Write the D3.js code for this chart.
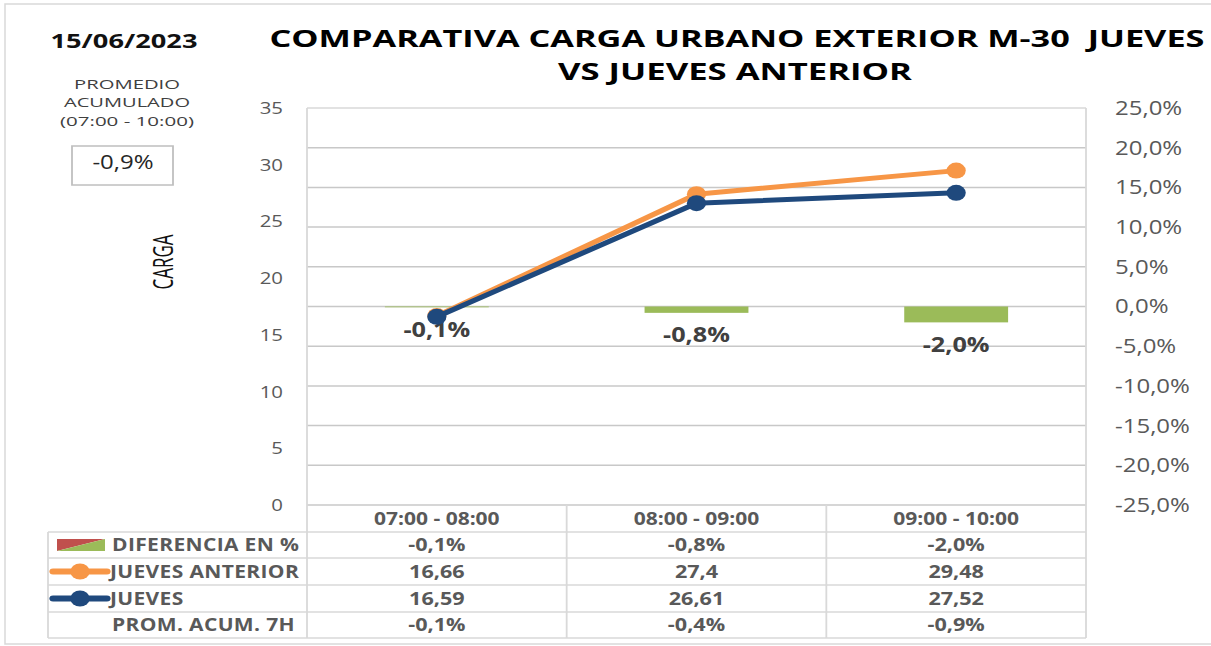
<!DOCTYPE html>
<html>
<head>
<meta charset="utf-8">
<script src="https://cdn.jsdelivr.net/npm/d3@7"></script>
<style>
  body { margin: 0; background: #fff; }
  svg text { font-family: "Open Sans", sans-serif; }
</style>
</head>
<body>
<div id="chart"></div>
<script>
// data
const categories = ["07:00 - 08:00", "08:00 - 09:00", "09:00 - 10:00"];
const diferencia = [-0.001, -0.008, -0.020];
const juevesAnterior = [16.66, 27.4, 29.48];
const jueves = [16.59, 26.61, 27.52];
const promAcum = [-0.001, -0.004, -0.009];
const leftTicks = [0, 5, 10, 15, 20, 25, 30, 35];
const rightTicks = [-25, -20, -15, -10, -5, 0, 5, 10, 15, 20, 25].map(v => v / 100);

const W = 1211, H = 646;
// the original picture is stretched sideways, so draw in a squeezed space
const SX = 1.2;
const X = v => v / SX;

const GREEN = "#9bbb59", RED = "#c0504d", ORANGE = "#f79646", NAVY = "#1f497d";
const GRID = "#c8c8c8", BORDER = "#d9d9d9", TXT = "#595959";

const pct = d => (d * 100).toFixed(1).replace(".", ",") + "%";
const num = d => String(d).replace(".", ",");

const svg = d3.select("#chart").append("svg")
    .attr("width", W)
    .attr("height", H);

// outer border of the chart area
svg.append("rect")
    .attr("x", 5).attr("y", 4)
    .attr("width", W + 10).attr("height", H - 6)
    .attr("fill", "none").attr("stroke", BORDER).attr("stroke-width", 1.5);

const g = svg.append("g").attr("transform", "scale(" + SX + ",1)");

const plot = { left: 307, right: 1086, top: 108, bottom: 505 };
const rowLines = [532, 558, 585, 612, 638];

const x = d3.scaleBand().domain(categories).range([X(plot.left), X(plot.right)]);
const yLeft = d3.scaleLinear().domain([0, 35]).range([plot.bottom, plot.top]);
const yRight = d3.scaleLinear().domain([-0.25, 0.25]).range([plot.bottom, plot.top]);
const cx = c => x(c) + x.bandwidth() / 2;

// titles
g.append("text")
    .attr("x", X(124)).attr("y", 48)
    .attr("text-anchor", "middle")
    .attr("font-size", 20).attr("font-weight", "bold").attr("fill", "#111")
    .attr("textLength", X(147)).attr("lengthAdjust", "spacingAndGlyphs")
    .text("15/06/2023");

g.append("text")
    .attr("x", X(737)).attr("y", 47)
    .attr("text-anchor", "middle")
    .style("white-space", "pre")
    .attr("font-size", 24).attr("font-weight", "bold").attr("fill", "#000")
    .attr("textLength", X(935)).attr("lengthAdjust", "spacingAndGlyphs")
    .text("COMPARATIVA CARGA URBANO EXTERIOR M-30  JUEVES");

g.append("text")
    .attr("x", X(735)).attr("y", 80)
    .attr("text-anchor", "middle")
    .attr("font-size", 24).attr("font-weight", "bold").attr("fill", "#000")
    .attr("textLength", X(354)).attr("lengthAdjust", "spacingAndGlyphs")
    .text("VS JUEVES ANTERIOR");

// promedio acumulado block
const promLines = ["PROMEDIO", "ACUMULADO", "(07:00 - 10:00)"];
const promWidths = [106, 126, 134];
promLines.forEach((t, i) => {
    g.append("text")
        .attr("x", X(127)).attr("y", 89 + i * 18.5)
        .attr("text-anchor", "middle")
        .attr("font-size", 13.5).attr("fill", "#404040")
        .attr("textLength", X(promWidths[i])).attr("lengthAdjust", "spacingAndGlyphs")
        .text(t);
});
g.append("rect")
    .attr("x", X(72)).attr("y", 146)
    .attr("width", X(101)).attr("height", 39)
    .attr("fill", "none").attr("stroke", "#bfbfbf").attr("stroke-width", 1.5);
g.append("text")
    .attr("x", X(123)).attr("y", 169)
    .attr("text-anchor", "middle")
    .attr("font-size", 20).attr("fill", "#262626")
    .text(pct(promAcum[promAcum.length - 1]));

// y axis title
g.append("text")
    .attr("transform", "translate(" + X(173) + ",262) rotate(-90)")
    .attr("text-anchor", "middle")
    .attr("font-size", 22).attr("fill", "#111")
    .attr("textLength", 55).attr("lengthAdjust", "spacingAndGlyphs")
    .text("CARGA");

// gridlines on the right axis ticks
g.append("g").selectAll("line")
    .data(rightTicks)
    .join("line")
    .attr("x1", X(plot.left)).attr("x2", X(plot.right))
    .attr("y1", d => yRight(d)).attr("y2", d => yRight(d))
    .attr("stroke", d => d === 0.25 ? BORDER : GRID)
    .attr("stroke-width", 1.5);

// axes
const leftAxis = g.append("g")
    .attr("transform", "translate(" + X(plot.left) + ",0)")
    .call(d3.axisLeft(yLeft).tickValues(leftTicks).tickSize(0).tickPadding(X(24)));
leftAxis.select(".domain").remove();
leftAxis.selectAll("text").attr("font-size", 17).attr("fill", TXT).attr("font-family", "Open Sans");

const rightAxis = g.append("g")
    .attr("transform", "translate(" + X(plot.right) + ",0)")
    .call(d3.axisRight(yRight).tickValues(rightTicks).tickSize(0).tickPadding(X(29)).tickFormat(pct));
rightAxis.select(".domain").remove();
rightAxis.selectAll("text").attr("font-size", 20).attr("fill", TXT).attr("font-family", "Open Sans");

// bars (right axis)
const barW = x.bandwidth() * 0.4;
g.append("g").selectAll("rect")
    .data(categories)
    .join("rect")
    .attr("x", c => cx(c) - barW / 2)
    .attr("width", barW)
    .attr("y", (c, i) => Math.min(yRight(0), yRight(diferencia[i])))
    .attr("height", (c, i) => Math.abs(yRight(diferencia[i]) - yRight(0)))
    .attr("fill", (c, i) => diferencia[i] < 0 ? GREEN : RED);

// bar labels
g.append("g").selectAll("text")
    .data(categories)
    .join("text")
    .attr("x", c => cx(c))
    .attr("y", (c, i) => yRight(Math.min(0, diferencia[i])) + 22)
    .attr("dy", "0.35em")
    .attr("text-anchor", "middle")
    .attr("font-size", 21).attr("font-weight", "bold").attr("fill", "#404040")
    .text((c, i) => pct(diferencia[i]));

// lines (left axis)
const line = d3.line().x((d, i) => cx(categories[i])).y(d => yLeft(d));
[[juevesAnterior, ORANGE], [jueves, NAVY]].forEach(([vals, col]) => {
    g.append("path")
        .datum(vals)
        .attr("d", line)
        .attr("fill", "none")
        .attr("stroke", col)
        .attr("stroke-width", 5)
        .attr("stroke-linejoin", "round");
    g.append("g").selectAll("circle")
        .data(vals)
        .join("circle")
        .attr("cx", (d, i) => cx(categories[i]))
        .attr("cy", d => yLeft(d))
        .attr("r", 8)
        .attr("fill", col);
});

// data table
const tbl = g.append("g").attr("stroke", BORDER).attr("stroke-width", 1.5);
rowLines.forEach(yy => {
    tbl.append("line").attr("x1", X(48)).attr("x2", X(plot.right)).attr("y1", yy).attr("y2", yy);
});
tbl.append("line").attr("x1", X(48)).attr("x2", X(48)).attr("y1", rowLines[0]).attr("y2", rowLines[4]);
tbl.append("line").attr("x1", X(plot.left)).attr("x2", X(plot.left)).attr("y1", plot.top).attr("y2", rowLines[4]);
tbl.append("line").attr("x1", X(plot.right)).attr("x2", X(plot.right)).attr("y1", plot.top).attr("y2", rowLines[4]);
categories.slice(1).forEach(c => {
    tbl.append("line").attr("x1", x(c)).attr("x2", x(c)).attr("y1", plot.bottom).attr("y2", rowLines[4]);
});

const rowMid = [518.5, 545, 571.5, 598.5, 625];
const rows = [
    categories,
    diferencia.map(pct),
    juevesAnterior.map(num),
    jueves.map(num),
    promAcum.map(pct)
];
rows.forEach((vals, r) => {
    g.append("g").selectAll("text")
        .data(vals)
        .join("text")
        .attr("x", (d, i) => cx(categories[i]))
        .attr("y", rowMid[r])
        .attr("dy", "0.35em")
        .attr("text-anchor", "middle")
        .attr("font-size", r === 0 ? 17.5 : 18).attr("font-weight", "bold").attr("fill", TXT)
        .text(d => d);
});

// legend cells
const labels = ["DIFERENCIA EN %", "JUEVES ANTERIOR", "JUEVES", "PROM. ACUM. 7H"];
const labelX = [112, 110, 110, 112];
labels.forEach((t, i) => {
    g.append("text")
        .attr("x", X(labelX[i])).attr("y", rowMid[i + 1])
        .attr("dy", "0.35em")
        .attr("font-size", 17.5).attr("font-weight", "bold").attr("fill", TXT)
        .attr("letter-spacing", 0.3)
        .text(t);
});
// bar swatch split diagonally
const sw = { x0: X(57), x1: X(105), y0: 539, y1: 551 };
g.append("polygon")
    .attr("points", [[sw.x0, sw.y0], [sw.x1, sw.y0], [sw.x0, sw.y1]].join(" "))
    .attr("fill", RED);
g.append("polygon")
    .attr("points", [[sw.x1, sw.y0], [sw.x1, sw.y1], [sw.x0, sw.y1]].join(" "))
    .attr("fill", GREEN);
[[ORANGE, rowMid[2]], [NAVY, rowMid[3]]].forEach(([col, yy]) => {
    g.append("line")
        .attr("x1", X(53)).attr("x2", X(107))
        .attr("y1", yy).attr("y2", yy)
        .attr("stroke", col).attr("stroke-width", 6).attr("stroke-linecap", "round");
    g.append("circle")
        .attr("cx", X(80)).attr("cy", yy).attr("r", 8).attr("fill", col);
});
</script>
</body>
</html>
